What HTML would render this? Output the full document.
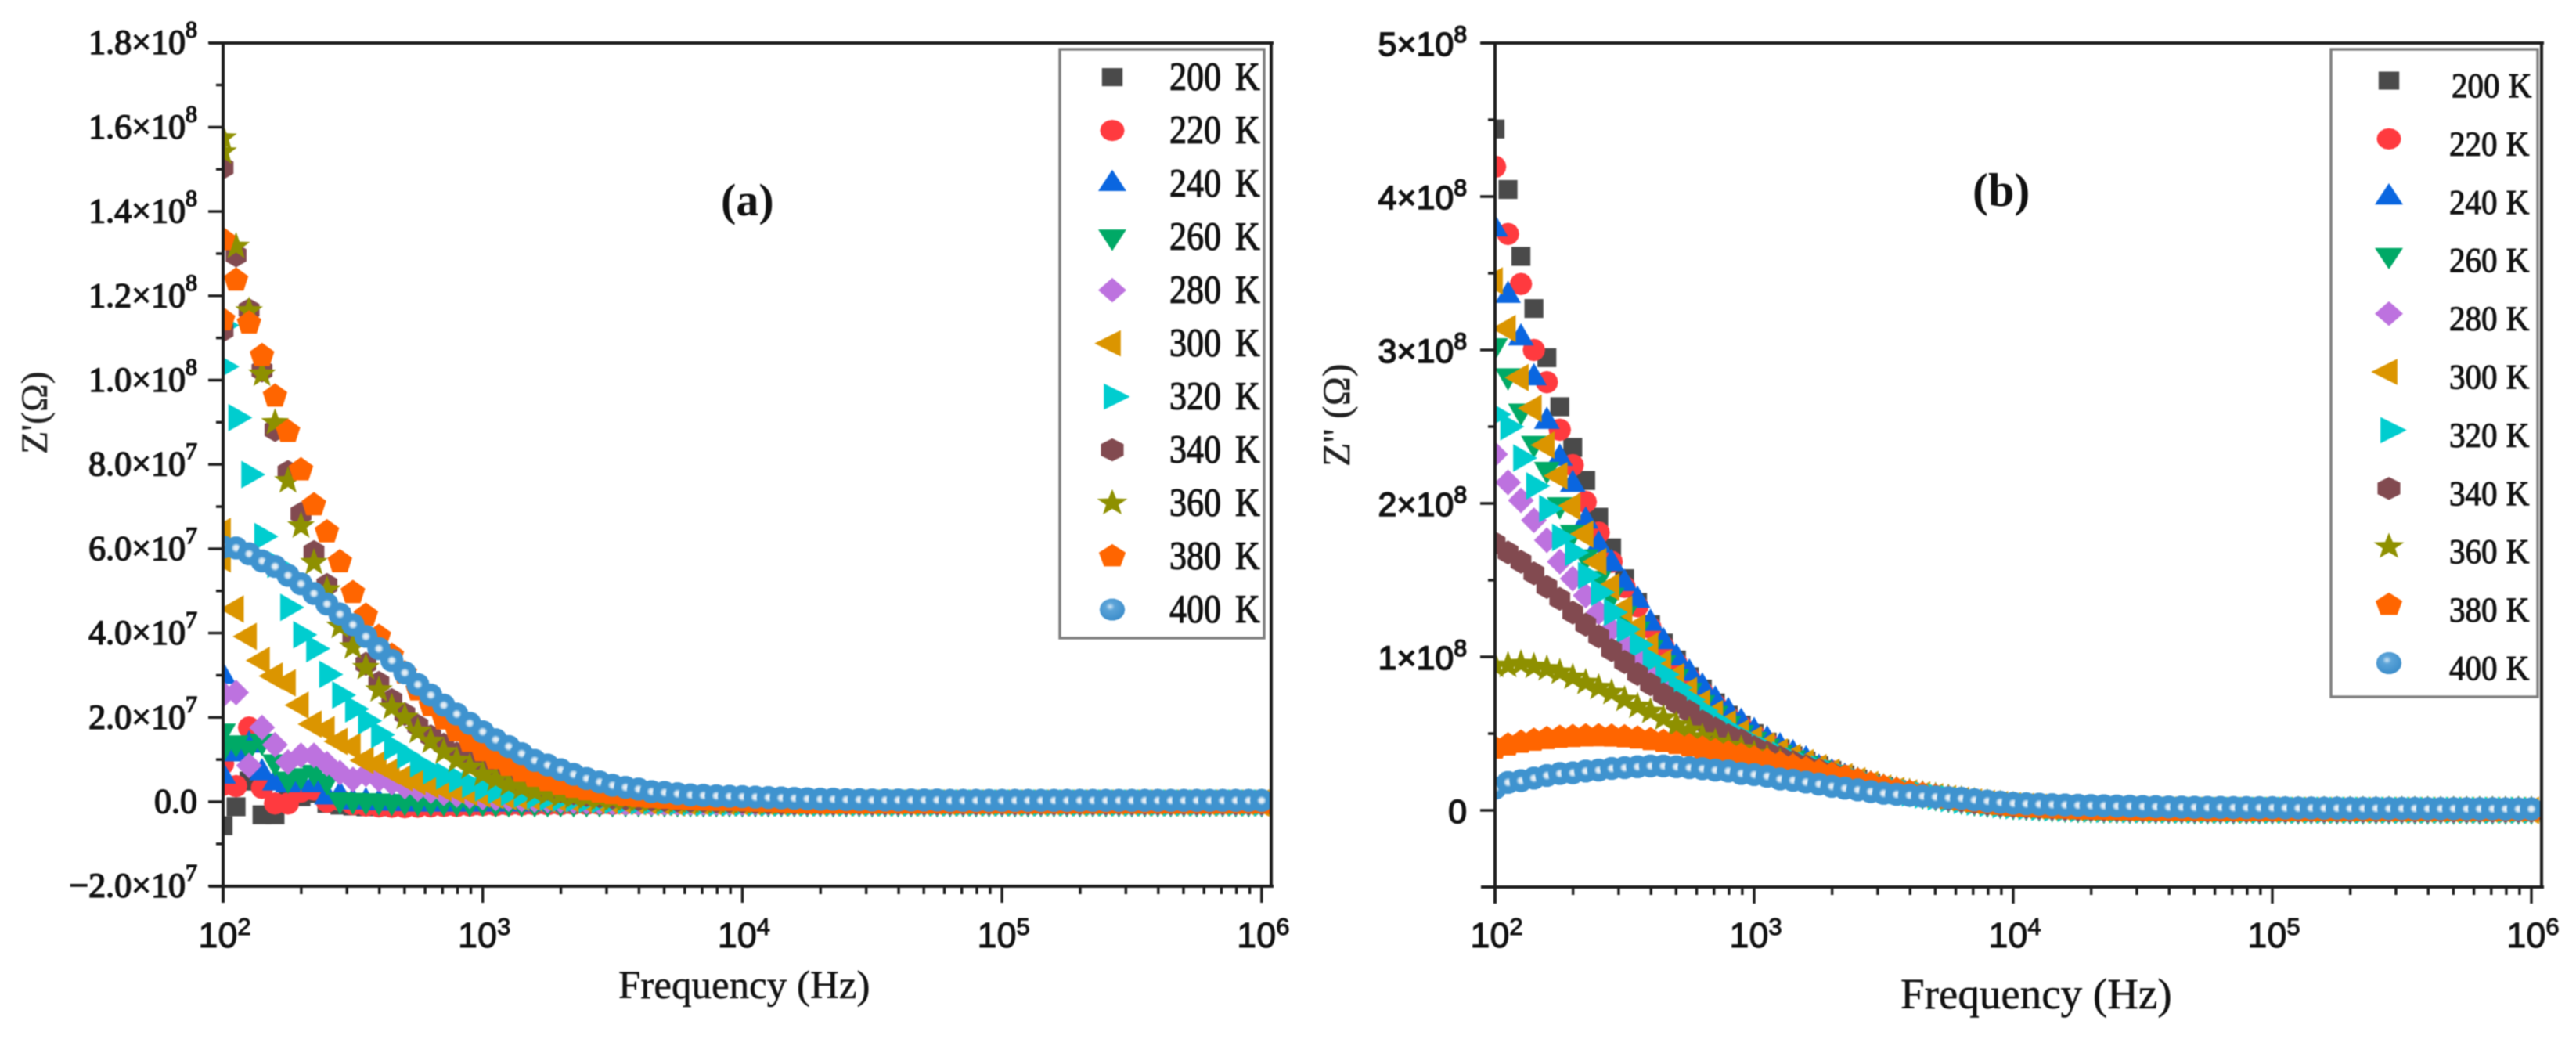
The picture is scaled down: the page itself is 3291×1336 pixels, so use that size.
<!DOCTYPE html>
<html lang="en">
<head>
<meta charset="utf-8">
<title>Z' and Z'' versus frequency</title>
<style>
html,body{margin:0;padding:0;background:#fff;}
body{width:3291px;height:1336px;overflow:hidden;}
#figure{display:block;filter:blur(0.8px);}
.serif{font-family:"Liberation Serif",serif;}
.sans{font-family:"Liberation Sans",sans-serif;}
</style>
</head>
<body>
<svg id="figure" xmlns="http://www.w3.org/2000/svg" width="3291" height="1336" viewBox="0 0 3291 1336">
  <defs>
    <clipPath id="clip-a"><rect x="285" y="55" width="1339" height="1077"/></clipPath>
    <clipPath id="clip-b"><rect x="1910" y="55" width="1337" height="1078"/></clipPath>
    <radialGradient id="ball-plot">
      <stop offset="0" stop-color="#eef4f9"/>
      <stop offset="0.2" stop-color="#d5e5f1"/>
      <stop offset="0.42" stop-color="#3f93cf"/>
      <stop offset="1" stop-color="#3f93cf"/>
    </radialGradient>
    <radialGradient id="ball-legend" cx="0.42" cy="0.36" r="0.6">
      <stop offset="0" stop-color="#cfe4f4"/>
      <stop offset="0.3" stop-color="#5ba3d8"/>
      <stop offset="1" stop-color="#3f8fcb"/>
    </radialGradient>
  </defs>
  <g id="panel-a"></g>
  <g id="panel-b"></g>
  <text class="serif" x="921" y="275" font-size="58" font-weight="700" fill="#111">(a)</text>
  <text class="serif" x="2520" y="263" font-size="60" font-weight="700" fill="#111">(b)</text>
  <text class="serif" x="790" y="1275" font-size="51" fill="#111" stroke="#111" stroke-width="0.5">Frequency (Hz)</text>
  <text class="serif" x="2428" y="1288" font-size="55" fill="#111" stroke="#111" stroke-width="0.5">Frequency (Hz)</text>
  <text class="serif" transform="translate(60 580) rotate(-90)" font-size="48" fill="#222" stroke="#222" stroke-width="0.4">Z'(Ω)</text>
  <text class="serif" transform="translate(1724 596) rotate(-90)" font-size="50" fill="#222" stroke="#222" stroke-width="0.4">Z'' (Ω)</text>
</svg>
<script>
const temperatureLabels = ["200 K","220 K","240 K","260 K","280 K","300 K","320 K","340 K","360 K","380 K","400 K"];

const logFreqB = [2,2.05,2.1,2.15,2.2,2.25,2.3,2.35,2.4,2.45,2.5,2.55,2.6,2.65,2.7,2.75,2.8,2.85,2.9,2.95,
3,3.05,3.1,3.15,3.2,3.25,3.3,3.35,3.4,3.45,3.5,3.55,3.6,3.65,3.7,3.75,3.8,3.85,3.9,3.95,
4,4.05,4.1,4.15,4.2,4.25,4.3,4.35,4.4,4.45,4.5,4.55,4.6,4.65,4.7,4.75,4.8,4.85,4.9,4.95,
5,5.05,5.1,5.15,5.2,5.25,5.3,5.35,5.4,5.45,5.5,5.55,5.6,5.65,5.7,5.75,5.8,5.85,5.9,5.95,6];

const logFreqA = [2,2,2.05,2.1,2.15,2.2,2.25,2.3,2.35,2.4,2.45,2.5,2.55,2.6,2.65,2.7,2.75,2.8,2.85,2.9,2.95,
3,3.05,3.1,3.15,3.2,3.25,3.3,3.35,3.4,3.45,3.5,3.55,3.6,3.65,3.7,3.75,3.8,3.85,3.9,3.95,
4,4.05,4.1,4.15,4.2,4.25,4.3,4.35,4.4,4.45,4.5,4.55,4.6,4.65,4.7,4.75,4.8,4.85,4.9,4.95,
5,5.05,5.1,5.15,5.2,5.25,5.3,5.35,5.4,5.45,5.5,5.55,5.6,5.65,5.7,5.75,5.8,5.85,5.9,5.95,6];

/* Panel (a): Z' in units of 1e6 ohm */
const realZ200 = [-5.7,12.2,
-1.2,4.9,-3.1,-3.1,.8,1.2,2,-.4,-.8,-1,
-1.2,-1.2,-1.2,-1.1,-1,-1,-1,-.9,-.9,-.8,
-.8,-.7,-.7,-.6,-.6,-.6,-.5,-.5,-.5,-.5,
-.4,-.4,-.4,-.4,-.4,-.4,-.4,-.4,-.4,-.3,
-.3,-.3,-.3,-.3,-.3,-.3,-.3,-.3,-.3,-.3,
-.3,-.3,-.3,-.3,-.3,-.3,-.3,-.3,-.3,-.3,
-.3,-.3,-.3,-.3,-.3,-.3,-.3,-.3,-.3,-.3,
-.3,-.3,-.3,-.3,-.3,-.3,-.3,-.3,-.3,-.3];
const realZ220 = [9,4,
3.7,17.6,3.3,-.4,-.4,2.4,2.9,0,.4,-.6,
-.9,-1.1,-1.2,-1.3,-1.2,-1.1,-1,-1,-.9,-.8,
-.8,-.7,-.7,-.6,-.6,-.6,-.5,-.5,-.5,-.5,
-.4,-.4,-.4,-.4,-.4,-.4,-.4,-.4,-.4,-.3,
-.3,-.3,-.3,-.3,-.3,-.3,-.3,-.3,-.3,-.3,
-.3,-.3,-.3,-.3,-.3,-.3,-.3,-.3,-.3,-.3,
-.3,-.3,-.3,-.3,-.3,-.3,-.3,-.3,-.3,-.3,
-.3,-.3,-.3,-.3,-.3,-.3,-.3,-.3,-.3,-.3];
const realZ240 = [29.8,6.1,
11.4,13.5,6.9,4.5,4.1,4.5,4.1,1.2,1.6,0,
0,-.2,-.3,-.4,-.5,-.5,-.5,-.5,-.5,-.5,
-.5,-.5,-.5,-.5,-.5,-.5,-.5,-.5,-.4,-.4,
-.4,-.4,-.4,-.4,-.4,-.4,-.4,-.4,-.4,-.3,
-.3,-.3,-.3,-.3,-.3,-.3,-.3,-.3,-.3,-.3,
-.3,-.3,-.3,-.3,-.3,-.3,-.3,-.3,-.3,-.3,
-.3,-.3,-.3,-.3,-.3,-.3,-.3,-.3,-.3,-.3,
-.3,-.3,-.3,-.3,-.3,-.3,-.3,-.3,-.3,-.3];
const realZ260 = [16.7,12.5,
13.9,12.7,14.3,9.4,5.3,6.1,6.9,4.9,.4,.3,
.2,.1,0,0,-.1,-.1,-.1,-.2,-.2,-.2,
-.3,-.3,-.3,-.3,-.3,-.3,-.3,-.3,-.3,-.3,
-.3,-.3,-.3,-.3,-.3,-.3,-.3,-.3,-.3,-.3,
-.3,-.3,-.3,-.3,-.3,-.3,-.3,-.3,-.3,-.3,
-.3,-.3,-.3,-.3,-.3,-.3,-.3,-.3,-.3,-.3,
-.3,-.3,-.3,-.3,-.3,-.3,-.3,-.3,-.3,-.3,
-.3,-.3,-.3,-.3,-.3,-.3,-.3,-.3,-.3,-.3];
const realZ280 = [25.3,25.7,
25.9,8.6,17.6,13.5,9.4,11,11,9,6.9,5.3,
6.5,5.3,4.5,3.6,3,2.5,2,1.6,1.3,1,
.8,.6,.5,.4,.3,.2,.1,0,-.1,-.2,
-.3,-.3,-.3,-.3,-.3,-.3,-.3,-.3,-.3,-.3,
-.3,-.3,-.3,-.3,-.3,-.3,-.3,-.3,-.3,-.3,
-.3,-.3,-.3,-.3,-.3,-.3,-.3,-.3,-.3,-.3,
-.3,-.3,-.3,-.3,-.3,-.3,-.3,-.3,-.3,-.3,
-.3,-.3,-.3,-.3,-.3,-.3,-.3,-.3,-.3,-.3];
const realZ300 = [64.1,57.6,
45.7,39.2,33.5,29.8,28.2,22.9,18.4,17.1,14.3,13.1,
9.8,9,7.3,5.7,4.8,4,3.3,2.7,2.2,1.8,
1.5,1.2,1,.8,.6,.5,.4,.3,.2,.1,
.1,0,-.1,-.2,-.3,-.3,-.3,-.3,-.3,-.3,
-.3,-.3,-.3,-.3,-.3,-.3,-.3,-.3,-.3,-.3,
-.3,-.3,-.3,-.3,-.3,-.3,-.3,-.3,-.3,-.3,
-.3,-.3,-.3,-.3,-.3,-.3,-.3,-.3,-.3,-.3,
-.3,-.3,-.3,-.3,-.3,-.3,-.3,-.3,-.3,-.3];
const realZ320 = [113,103.2,
91.1,77.6,62.9,56.3,46.1,39.6,36.3,30.2,25.3,22,
19.2,15.9,13,11,9,7.3,6.1,5.3,4.1,3.3,
2.7,2.2,1.8,1.4,1.1,.9,.7,.5,.4,.3,
.2,.1,.1,0,-.1,-.2,-.3,-.3,-.3,-.3,
-.3,-.3,-.3,-.3,-.3,-.3,-.3,-.3,-.3,-.3,
-.3,-.3,-.3,-.3,-.3,-.3,-.3,-.3,-.3,-.3,
-.3,-.3,-.3,-.3,-.3,-.3,-.3,-.3,-.3,-.3,
-.3,-.3,-.3,-.3,-.3,-.3,-.3,-.3,-.3,-.3];
const realZ340 = [150.4,111.8,
129.6,116.6,102.3,88.2,78.2,68.3,59.2,51.4,44.5,38.4,
32.7,28.2,24.1,20.8,18,15.5,13.5,11.4,9.6,8.1,
6.8,5.6,4.6,3.8,3.1,2.5,2,1.6,1.3,1,
.8,.6,.5,.4,.3,.2,.2,.1,.1,0,
-.1,-.2,-.3,-.3,-.3,-.3,-.3,-.3,-.3,-.3,
-.3,-.3,-.3,-.3,-.3,-.3,-.3,-.3,-.3,-.3,
-.3,-.3,-.3,-.3,-.3,-.3,-.3,-.3,-.3,-.3,
-.3,-.3,-.3,-.3,-.3,-.3,-.3,-.3,-.3,-.3];
const realZ360 = [157.4,154.1,
131.7,116.4,101.4,89.9,76.1,65.4,56.7,50.2,41.6,36.7,
31.8,26.5,22.4,20,16.7,14.3,11.8,9.8,8.2,6.5,
5.3,4.1,3.3,2.4,1.9,1.5,1.2,1,.8,.6,
.5,.4,.3,.2,.1,.1,0,0,-.1,-.1,
-.2,-.3,-.3,-.3,-.3,-.3,-.3,-.3,-.3,-.3,
-.3,-.3,-.3,-.3,-.3,-.3,-.3,-.3,-.3,-.3,
-.3,-.3,-.3,-.3,-.3,-.3,-.3,-.3,-.3,-.3,
-.3,-.3,-.3,-.3,-.3,-.3,-.3,-.3,-.3,-.3];
const realZ380 = [133.3,114.3,
123.7,113.5,105.8,96.2,87.8,78.7,70.4,64,56.9,49.6,
44.2,39.2,34.7,30.5,26.5,22.8,19.6,16.8,14.3,12.1,
10.2,8.6,7.2,6,5,4.1,3.4,2.8,2.3,1.9,
1.5,1.2,1,.8,.6,.5,.4,.3,.3,.2,
.1,0,-.1,-.2,-.3,-.3,-.3,-.3,-.3,-.3,
-.3,-.3,-.3,-.3,-.3,-.3,-.3,-.3,-.3,-.3,
-.3,-.3,-.3,-.3,-.3,-.3,-.3,-.3,-.3,-.3,
-.3,-.3,-.3,-.3,-.3,-.3,-.3,-.3,-.3,-.3];
const realZ400 = [60.4,60.4,
60.2,58.8,57.1,55.8,53.7,51.7,49.4,46.9,44.5,42,
39.2,36.3,33.5,30.6,27.8,25.3,22.9,20.8,18.6,16.6,
14.7,13.1,11.4,9.8,8.7,7.6,6.5,5.5,4.7,3.9,
3.4,3,2.4,2.2,1.9,1.6,1.5,1.4,1.3,1.2,
1.1,1,.9,.8,.7,.6,.6,.5,.5,.4,
.4,.4,.4,.4,.4,.3,.3,.3,.3,.3,
.3,.3,.3,.3,.3,.3,.3,.3,.3,.3,
.3,.3,.3,.3,.3,.3,.3,.3,.3,.3];

/* Panel (b): Z'' in units of 1e6 ohm */
const imagZ200 = [444,404.6,361,327,295,263,236.5,215,191,171,
151,135.5,121,109,98,87,79,70,62,55.5,
50,44.4,40,35.5,32,29,26,23,20.3,17.8,
15.5,13.5,11.9,10.5,9.2,8,6.8,5.7,4.7,3.9,
3.1,2.6,2.1,1.7,1.3,1,.8,.6,.5,.4,
.3,.2,.2,.1,.1,0,0,0,0,0,
0,0,0,0,0,0,0,0,0,0,
0,0,0,0,0,0,0,0,0,0,0];
const imagZ220 = [419.4,375.6,343,300,279,248,225,201,181,162,
145.6,133,119,106.7,96,86,77,68.8,61,54.8,
49,44,39,35,31.5,28.5,25.5,22.5,19.8,17.3,
15,13.2,11.6,10.2,9,7.8,6.6,5.5,4.6,3.8,
3,2.5,2,1.6,1.3,1,.8,.6,.5,.4,
.3,.2,.2,.1,.1,0,0,0,0,0,
0,0,0,0,0,0,0,0,0,0,
0,0,0,0,0,0,0,0,0,0,0];
const imagZ240 = [379,335.7,308,282,253.6,229.6,212.5,188.6,173,161,
148,137,122,110,99.5,89.5,80.5,72,64.5,57.5,
51.5,46,41.5,37,33,27.5,24.5,21.7,19,16.7,
14.5,12.8,11.3,10,8.8,7.6,6.5,5.4,4.5,3.7,
3,2.5,2,1.6,1.3,1,.8,.6,.5,.4,
.3,.2,.2,.1,.1,0,0,0,0,0,
0,0,0,0,0,0,0,0,0,0,
0,0,0,0,0,0,0,0,0,0,0];
const imagZ260 = [302.6,283,260,239,222,199,181,165,151,140,
128,118,106,96,87,78,70,63,56.5,50.5,
46,41.5,37.5,34,30.5,27.5,24.5,21.7,19,16.7,
14.5,12.8,11.3,10,8.8,7.6,6.5,5.4,4.5,3.7,
3,2.5,2,1.6,1.3,1,.8,.6,.5,.4,
.3,.2,.2,.1,.1,0,0,0,0,0,
0,0,0,0,0,0,0,0,0,0,
0,0,0,0,0,0,0,0,0,0,0];
const imagZ280 = [232,213.7,202,189,176,162,151,140,129,118,
108,100,91,83,75.5,69,62.5,56.5,51,46.5,
42,38,34.5,31.5,28.5,26,23.8,21.5,19,16.7,
14.5,12.8,11.3,10,8.8,7.6,6.5,5.4,4.5,3.7,
3,2.5,2,1.6,1.3,1,.8,.6,.5,.4,
.3,.2,.2,.1,.1,0,0,0,0,0,
0,0,0,0,0,0,0,0,0,0,
0,0,0,0,0,0,0,0,0,0,0];
const imagZ300 = [345,314,282,262,238,218,198,180,162,145.6,
131,119,107,96,87,78,70,63,56.5,50.5,
46,42,38,34.5,31,27.8,24.8,21.9,19.2,16.8,
14.5,12.8,11.3,10,8.8,7.6,6.5,5.4,4.5,3.7,
3,2.5,2,1.6,1.3,1,.8,.6,.5,.4,
.3,.2,.2,.1,.1,0,0,0,0,0,
0,0,0,0,0,0,0,0,0,0,
0,0,0,0,0,0,0,0,0,0,0];
const imagZ320 = [258,250,229.6,211.4,196.6,177.8,168,153,142,129,
118,108,98,88.5,80,72,65,58.5,53,48,
43.5,39.5,36,32.5,29.5,27,24.5,21.7,19,16.7,
14.5,12.8,11.3,10,8.8,7.6,6.5,5.4,4.5,3.7,
3,2.5,2,1.6,1.3,1,.8,.6,.5,.4,
.3,.2,.2,.1,.1,0,0,0,0,0,
0,0,0,0,0,0,0,0,0,0,
0,0,0,0,0,0,0,0,0,0,0];
const imagZ340 = [174,168,162,154.4,145.6,137.8,128.9,121,113.3,104.4,
96.7,88.9,82.2,75.6,70,64.4,57.8,53.3,48.9,45.6,
41.1,37.6,34.5,31.5,28.8,26.3,24,21.5,19,16.7,
14.5,12.8,11.3,10,8.8,7.6,6.5,5.4,4.5,3.7,
3,2.5,2,1.6,1.3,1,.8,.6,.5,.4,
.3,.2,.2,.1,.1,0,0,0,0,0,
0,0,0,0,0,0,0,0,0,0,
0,0,0,0,0,0,0,0,0,0,0];
const imagZ360 = [94.4,94.4,95.6,93.8,92.2,90,86.7,83.3,80,76.7,
72.2,67.8,64.4,60,55.6,52.2,47.8,44.4,42.2,40,
36.7,34,31.5,29,26.8,24.7,22.7,20.8,19,17,
15,13.3,11.8,10.4,9.2,8,6.9,5.8,4.8,4,
3.2,2.6,2.1,1.7,1.3,1,.8,.6,.5,.4,
.3,.2,.2,.1,.1,0,0,0,0,0,
0,0,0,0,0,0,0,0,0,0,
0,0,0,0,0,0,0,0,0,0,0];
const imagZ380 = [40.5,42.5,44.3,45.6,46.7,47.5,48,48.4,48.5,48.3,
47.8,47,46,44.8,43.5,42,40.5,38.8,37.3,35.8,
34,32.2,30.5,28.8,27,25.2,23.4,21.6,19.5,17.3,
15.2,13.4,11.8,10.4,9.1,7.9,6.8,5.7,4.7,3.9,
3.1,2.6,2,1.6,1.3,1,.8,.6,.5,.4,
.3,.2,.2,.1,.1,0,0,0,0,0,
0,0,0,0,0,0,0,0,0,0,
0,0,0,0,0,0,0,0,0,0,0];
const imagZ400 = [14.4,18.2,19.3,21,22.7,24,24.4,25.6,26.2,27.3,
27.8,28.4,28.9,28.9,28.4,27.8,27.1,26.2,25.6,24,
23.3,22.2,20.4,19.6,18.4,17.1,15.6,14.4,13.3,12.2,
11.1,10.4,9.8,9.2,8.7,8.2,7.8,6.8,6,5.3,
4.6,4.3,4,3.7,3.5,3.3,3.1,3,2.8,2.7,
2.5,2.4,2.2,2.1,2,1.9,1.9,1.8,1.8,1.7,
1.7,1.6,1.5,1.5,1.4,1.4,1.3,1.3,1.3,1.2,
1.2,1.2,1.1,1.1,1.1,1,1,1,.9,.9,.9];

const xMajorLogs = [2,3,4,5,6];
const xMajorExponents = ["2","3","4","5","6"];
const xMinorMultipliers = [2,3,4,5,6,7,8,9];

const yTicksA = [-20,0,20,40,60,80,100,120,140,160,180];
const yTickTextA = ["\u22122.0\u00d710","0.0","2.0\u00d710","4.0\u00d710","6.0\u00d710","8.0\u00d710","1.0\u00d710","1.2\u00d710","1.4\u00d710","1.6\u00d710","1.8\u00d710"];
const yTickExpA = ["7","","7","7","7","7","8","8","8","8","8"];

const yTicksB = [0,100,200,300,400,500];
const yTickTextB = ["0","1\u00d710","2\u00d710","3\u00d710","4\u00d710","5\u00d710"];
const yTickExpB = ["","8","8","8","8","8"];

const seriesA = [realZ200,realZ220,realZ240,realZ260,realZ280,realZ300,realZ320,realZ340,realZ360,realZ380,realZ400];
const seriesB = [imagZ200,imagZ220,imagZ240,imagZ260,imagZ280,imagZ300,imagZ320,imagZ340,imagZ360,imagZ380,imagZ400];

const NS = "http://www.w3.org/2000/svg";
const PLOT_MARK_SCALE = 1.1;

function xScaleA(lf){ return 285 + (lf - 2) * 331.7; }
function yScaleA(v){ return 1024 - v * 5.385; }
function xScaleB(lf){ return 1910 + (lf - 2) * 331; }
function yScaleB(v){ return 1035 - v * 1.96; }

function regularPolygon(n, r, startDeg){
  const pts = [];
  for(let k = 0; k < n; k++){
    const a = (startDeg + k * 360 / n) * Math.PI / 180;
    pts.push((r * Math.cos(a)).toFixed(2) + "," + (r * Math.sin(a)).toFixed(2));
  }
  return pts.join(" ");
}
function starPolygon(R, r){
  const pts = [];
  for(let k = 0; k < 10; k++){
    const a = (-90 + k * 36) * Math.PI / 180;
    const q = k % 2 ? r : R;
    pts.push((q * Math.cos(a)).toFixed(2) + "," + (q * Math.sin(a)).toFixed(2));
  }
  return pts.join(" ");
}
const markerShapes = [
  {fill:"#4a4a4a", points:"-11,-11 11,-11 11,11 -11,11"},
  {fill:"#ff3a3f", points:regularPolygon(16, 13, 0)},
  {fill:"#0a66e0", points:"-15,9 15,9 0,-17"},
  {fill:"#00a966", points:"-15,-9 15,-9 0,17"},
  {fill:"#bd72df", points:"0,-15 15,0 0,15 -15,0"},
  {fill:"#db9500", points:"9,-16 9,16 -19,0"},
  {fill:"#00cdcf", points:"-9,-16 -9,16 19,0"},
  {fill:"#824a50", points:regularPolygon(6, 14, -90)},
  {fill:"#8e9000", points:starPolygon(17, 7)},
  {fill:"#ff6500", points:regularPolygon(5, 15, -90)},
  {fill:"url(#ball-plot)", points:regularPolygon(18, 13.5, 0)}
];

function line(parent, x1, y1, x2, y2, width, color, name){
  const el = document.createElementNS(NS, "line");
  el.setAttribute("x1", x1);
  el.setAttribute("y1", y1);
  el.setAttribute("x2", x2);
  el.setAttribute("y2", y2);
  el.setAttribute("stroke", color);
  el.setAttribute("stroke-width", width);
  
  
  parent.appendChild(el);
  return el;
}

function label(parent, x, y, txt, exp, size, supSize, rise, cls, anchor, heavy, name){
  const el = document.createElementNS(NS, "text");
  el.setAttribute("class", cls);
  el.setAttribute("x", x);
  el.setAttribute("y", y);
  el.setAttribute("font-size", size);
  el.setAttribute("text-anchor", anchor);
  el.setAttribute("fill", "#111");
  el.setAttribute("stroke", "#111");
  el.setAttribute("stroke-width", heavy);
  
  
  el.appendChild(document.createTextNode(txt));
  if(exp){
    const sup = document.createElementNS(NS, "tspan");
    sup.setAttribute("dy", -rise);
    sup.setAttribute("font-size", supSize);
    sup.textContent = exp;
    el.appendChild(sup);
  }
  parent.appendChild(el);
  return el;
}

function marker(parent, s, x, y, sx, sy, fillOverride, name){
  const el = document.createElementNS(NS, "polygon");
  el.setAttribute("points", markerShapes[s].points);
  el.setAttribute("fill", fillOverride || markerShapes[s].fill);
  el.setAttribute("transform", "translate(" + x.toFixed(2) + " " + y.toFixed(2) + ") scale(" + sx + " " + sy + ")");
  
  
  parent.appendChild(el);
  return el;
}

function drawPanel(cfg){
  const root = document.getElementById(cfg.id);

  const marks = document.createElementNS(NS, "g");
  marks.setAttribute("clip-path", "url(#" + cfg.clip + ")");
  
  
  root.appendChild(marks);
  cfg.series.forEach(function(values, s){
    const group = document.createElementNS(NS, "g");
    
    
    marks.appendChild(group);
    values.forEach(function(v, i){
      marker(group, s, cfg.x(cfg.freq[i]), cfg.y(v), PLOT_MARK_SCALE, PLOT_MARK_SCALE, null, cfg.prefix + '-point');
    });
  });

  const c = "#1c1c1c";
  line(root, cfg.left - 18, cfg.top, cfg.right + 3, cfg.top, 4, c, cfg.prefix + "-top-axis");
  line(root, cfg.left, cfg.top - 2, cfg.left, cfg.bottom + 21, 4, c, cfg.prefix + "-left-axis");
  line(root, cfg.right, cfg.top - 2, cfg.right, cfg.bottom + 2, 4, c, cfg.prefix + "-right-axis");
  line(root, cfg.left - 18, cfg.bottom, cfg.right + 3, cfg.bottom, 4, c, cfg.prefix + "-bottom-axis");

  xMajorLogs.forEach(function(lf, k){
    const x = cfg.x(lf);
    line(root, x, cfg.bottom, x, cfg.bottom + 21, 3.4, c, cfg.prefix + "-x-major-tick");
    label(root, x + 2, 1210, "10", xMajorExponents[k], 45, 31, 16, "sans", "middle", "1", cfg.prefix + "-x-tick-label");
    if(lf < 6){
      xMinorMultipliers.forEach(function(m){
        const xm = cfg.x(lf + Math.log10(m));
        line(root, xm, cfg.bottom, xm, cfg.bottom + 10, 3.4, c, cfg.prefix + "-x-minor-tick");
      });
    }
  });

  cfg.yTicks.forEach(function(v, k){
    const y = cfg.y(v);
    line(root, cfg.left - 19, y, cfg.left, y, 3.4, c, cfg.prefix + "-y-major-tick");
    const ly = y + cfg.yLabelDrop;
    label(root, cfg.yLabelRight, ly, cfg.yText[k], cfg.yExp[k], cfg.yFont, cfg.ySup, cfg.yRise, cfg.yClass, "end", cfg.yHeavy, cfg.prefix + "-y-tick-label");
    if(k < cfg.yTicks.length - 1){
      const ym = cfg.y((v + cfg.yTicks[k + 1]) / 2);
      line(root, cfg.left - 9, ym, cfg.left, ym, 3.4, c, cfg.prefix + "-y-minor-tick");
    }
  });
  if(cfg.extraMinor !== null){
    const ye = cfg.y(cfg.extraMinor);
    line(root, cfg.left - 9, ye, cfg.left, ye, 3.4, c, cfg.prefix + "-y-minor-tick");
  }

  const box = document.createElementNS(NS, "rect");
  box.setAttribute("x", cfg.legend.x);
  box.setAttribute("y", cfg.legend.y);
  box.setAttribute("width", cfg.legend.w);
  box.setAttribute("height", cfg.legend.h);
  box.setAttribute("fill", "#fff");
  box.setAttribute("stroke", "#7d7d7d");
  box.setAttribute("stroke-width", "3.4");
  
  
  root.appendChild(box);

  temperatureLabels.forEach(function(t, s){
    const entry = document.createElementNS(NS, "g");
    
    
    root.appendChild(entry);
    const my = cfg.legend.markerY + s * cfg.legend.step;
    marker(entry, s, cfg.legend.markerX, my, 1.2, 1.05, s === 10 ? "url(#ball-legend)" : null, cfg.prefix + '-legend-marker');
    const tx = document.createElementNS(NS, "text");
    tx.setAttribute("class", "serif");
    tx.setAttribute("font-size", cfg.legend.font);
    tx.setAttribute("fill", "#111");
    tx.setAttribute("stroke", "#111");
    tx.setAttribute("stroke-width", "1");
    tx.setAttribute("word-spacing", cfg.legend.wordGap);
    const offset = (s === 0) ? cfg.legend.firstShift : 0;
    tx.setAttribute("transform", "translate(" + (cfg.legend.textX + offset) + " " + (cfg.legend.textY + s * cfg.legend.step) + ") scale(1 " + cfg.legend.stretch + ")");
    
    
    tx.textContent = t;
    entry.appendChild(tx);
  });
}

drawPanel({
  id:"panel-a", prefix:"panel-a", clip:"clip-a", series:seriesA, freq:logFreqA,
  x:xScaleA, y:yScaleA, left:285, right:1624, top:55, bottom:1132,
  yTicks:yTicksA, yText:yTickTextA, yExp:yTickExpA, yLabelRight:252, yLabelDrop:14,
  yFont:44, ySup:30, yRise:21, yClass:"serif", yHeavy:"1.5", extraMinor:null,
  legend:{x:1354,y:63,w:261,h:752,markerX:1421,markerY:98.6,step:68,textX:1494,textY:115,font:44,stretch:1.15,wordGap:7,firstShift:0}
});
drawPanel({
  id:"panel-b", prefix:"panel-b", clip:"clip-b", series:seriesB, freq:logFreqB,
  x:xScaleB, y:yScaleB, left:1910, right:3247, top:55, bottom:1133,
  yTicks:yTicksB, yText:yTickTextB, yExp:yTickExpB, yLabelRight:1874, yLabelDrop:16,
  yFont:43, ySup:30, yRise:17, yClass:"sans", yHeavy:"1.5", extraMinor:null,
  legend:{x:2978,y:63,w:264,h:827,markerX:3052,markerY:103,step:74.4,textX:3129,textY:124,font:41,stretch:1.08,wordGap:1,firstShift:3}
});
</script>
</body>
</html>
